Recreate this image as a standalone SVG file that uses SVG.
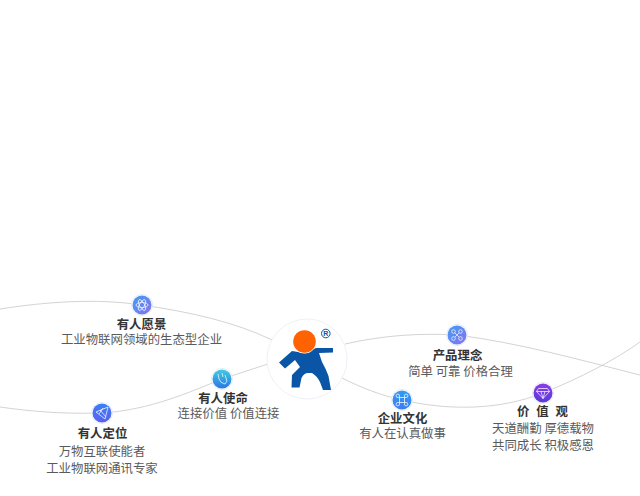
<svg xmlns="http://www.w3.org/2000/svg" width="640" height="496" viewBox="0 0 640 496">
<style>
text{font-family:"Noto Sans CJK SC","Noto Sans",sans-serif;text-anchor:middle;font-size:12.400px}
.t{font-weight:700;fill:#333}
.d{fill:#5a5a5a}
.c{fill:none;stroke:#c8c8c8;stroke-width:.8}
.halo{fill:#fff;stroke:#e4ecf8;stroke-width:1}
.g{fill:none;stroke:#fff;stroke-width:.8;opacity:.9}
</style>
<defs>
<linearGradient id="a" x1="0" y1="0" x2="1" y2="1"><stop offset="0" stop-color="#3f9cf2"/><stop offset="1" stop-color="#8a72f0"/></linearGradient>
<linearGradient id="b" x1="0" y1="0" x2="0" y2="1"><stop offset="0" stop-color="#42cbe0"/><stop offset="1" stop-color="#2a78e4"/></linearGradient>
<linearGradient id="e" x1="0" y1="0" x2="0" y2="1"><stop offset="0" stop-color="#3a80f2"/><stop offset="1" stop-color="#5a60f0"/></linearGradient>
<linearGradient id="f" x1="0" y1="0" x2="0" y2="1"><stop offset="0" stop-color="#2f9cf4"/><stop offset="1" stop-color="#3f7cf0"/></linearGradient>
<linearGradient id="h" x1="0" y1="0" x2="0" y2="1"><stop offset="0" stop-color="#8a3ce8"/><stop offset="1" stop-color="#5a3ad8"/></linearGradient>
</defs>
<g id="connectors">
<path class="c" d="M0 309C45 302 95 298 142 305C190 312 235 322 272 340"/>
<path class="c" d="M0 407C35 412 65 414 102 413C150 410 190 392 222 379L268 364"/>
<path class="c" d="M345 344C385 335 420 333 457 335C520 343 580 360 640 375"/>
<path class="c" d="M342 378C362 388 380 395 402 400C450 411 500 410 543 393C580 378 615 360 640 342"/>
</g>
<g id="logo">
<circle cx="307" cy="359" r="40" fill="#fff" stroke="#eef1f8"/>
<path fill="#0a55a5" d="M292 351L279 362.500L285 368.500L295 360L300 367L292 375L291.500 387.500L299.500 387.500L301.500 378Q304 373 308 373L312 373Q317 376 320 382L323 390L331 390L328.500 376Q326 369 322 362L319 353L333 352.500L333 348L316 348L304 353Z"/>
<circle cx="304.500" cy="341.500" r="12" fill="#fff"/>
<circle cx="304.500" cy="341.500" r="11.300" fill="#ff6200"/>
<circle cx="325.800" cy="333.500" r="4.300" fill="none" stroke="#0a55a5" stroke-width="1"/>
<text x="325.800" y="336.300" style="font-size:7px;font-family:'Liberation Sans',sans-serif;font-weight:700" fill="#0a55a5">R</text>
</g>
<g id="vision">
<circle class="halo" cx="142" cy="305" r="10.500"/><circle cx="142" cy="305" r="9.500" fill="url(#a)"/>
<g class="g"><ellipse cx="142" cy="305" rx="6" ry="2.500"/><ellipse cx="142" cy="305" rx="6" ry="2.500" transform="rotate(60 142 305)"/><ellipse cx="142" cy="305" rx="6" ry="2.500" transform="rotate(120 142 305)"/></g>
<text class="t" x="141.500" y="329">有人愿景</text>
<text class="d" x="141.500" y="344">工业物联网领域的生态型企业</text>
</g>
<g id="mission">
<circle class="halo" cx="222" cy="379" r="10.500"/><circle cx="222" cy="379" r="9.500" fill="url(#b)"/>
<path class="g" d="M218 374L219 379Q220 383 225 384L227 381L225 375M222 373L223 377"/>
<text class="t" x="223" y="403">有人使命</text>
<text class="d" x="228.500" y="418">连接价值 价值连接</text>
</g>
<g id="position">
<circle class="halo" cx="102" cy="413" r="10.500"/><circle cx="102" cy="413" r="9.500" fill="url(#e)"/>
<path class="g" d="M96 412L108 407L105 419ZM100 410L106 417M103 408L99 414"/>
<text class="t" x="102.500" y="438">有人定位</text>
<text class="d" x="102" y="456">万物互联使能者</text>
<text class="d" x="102" y="473">工业物联网通讯专家</text>
</g>
<g id="product">
<circle class="halo" cx="457" cy="335" r="10.500"/><circle cx="457" cy="335" r="9.500" fill="url(#a)"/>
<g class="g"><circle cx="453.500" cy="331.500" r="1.800"/><circle cx="460.500" cy="331.500" r="1.800"/><circle cx="453.500" cy="338.500" r="1.800"/><circle cx="460.500" cy="338.500" r="1.800"/><path d="M455 333L459 337M459 333L455 337"/></g>
<text class="t" x="457.500" y="360">产品理念</text>
<text class="d" x="460.500" y="376">简单 可靠 价格合理</text>
</g>
<g id="culture">
<circle class="halo" cx="402" cy="400" r="10.500"/><circle cx="402" cy="400" r="9.500" fill="url(#f)"/>
<path class="g" d="M399.500 397.500H404.500V402.500H399.500ZM399.500 397.500H398A1.700 1.700 0 1 1 399.500 396ZM404.500 397.500V396A1.700 1.700 0 1 1 406 397.500ZM404.500 402.500H406A1.700 1.700 0 1 1 404.500 404ZM399.500 402.500V404A1.700 1.700 0 1 1 398 402.500Z"/>
<text class="t" x="402.500" y="423">企业文化</text>
<text class="d" x="402.500" y="438">有人在认真做事</text>
</g>
<g id="values">
<circle class="halo" cx="543" cy="393" r="10.500"/><circle cx="543" cy="393" r="9.500" fill="url(#h)"/>
<path class="g" d="M538.500 388.500H547.500L549.500 391.500L543 398.500L536.500 391.500ZM536.500 391.500H549.500M541 391.500L543 398.500L545 391.500"/>
<text class="t" x="542.500" y="416" style="word-spacing:4px">价 值 观</text>
<text class="d" x="543" y="433">天道酬勤 厚德载物</text>
<text class="d" x="543" y="450">共同成长 积极感恩</text>
</g>
</svg>
